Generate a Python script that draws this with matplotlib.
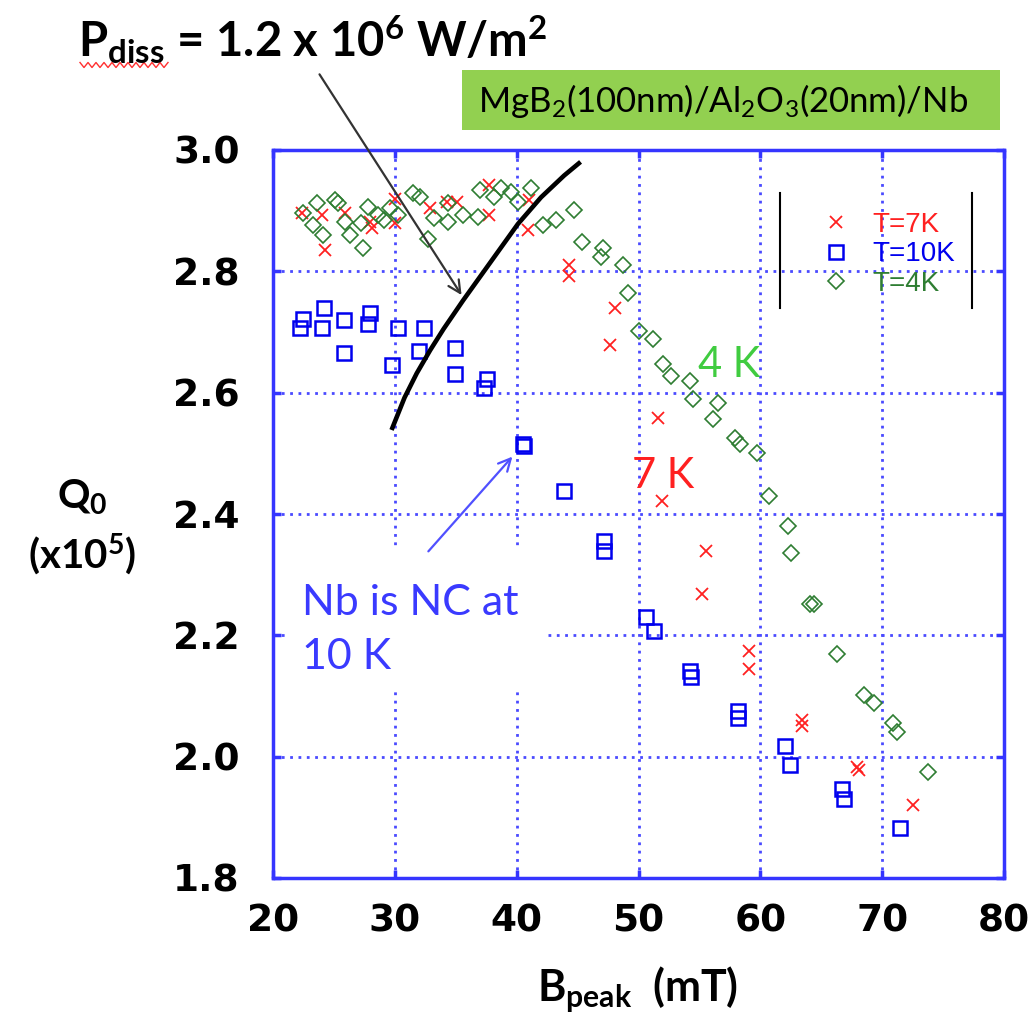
import numpy as np
import matplotlib
matplotlib.use('Agg')
import matplotlib.pyplot as plt
from matplotlib.lines import Line2D
from matplotlib.patches import Rectangle

plt.rcParams['mathtext.fontset'] = 'custom'
plt.rcParams['mathtext.rm'] = 'Lato'
plt.rcParams['mathtext.it'] = 'Lato:italic'
plt.rcParams['mathtext.bf'] = 'Lato:bold'

# T = 10 K (blue squares)
b10 = [22.2, 22.5, 24.0, 24.2, 25.8, 25.8, 27.8, 28.0, 30.3, 32.4, 32.0, 29.8,
       34.9, 34.9, 37.6, 37.3, 40.5, 40.6, 43.9, 47.2, 47.2, 50.6, 51.3, 54.2,
       54.3, 58.2, 58.2, 62.0, 62.4, 66.7, 66.9, 71.5]
q10 = [2.706, 2.722, 2.707, 2.739, 2.719, 2.666, 2.714, 2.731, 2.706, 2.706,
       2.669, 2.645, 2.673, 2.631, 2.623, 2.607, 2.516, 2.512, 2.438, 2.355,
       2.339, 2.231, 2.207, 2.142, 2.132, 2.075, 2.063, 2.018, 1.987, 1.947,
       1.931, 1.883]

# T = 7 K (red crosses)
b7 = [22.4, 24.0, 24.3, 25.9, 28.0, 28.1, 30.0, 30.0, 32.9, 34.3, 35.1, 37.7,
      37.7, 40.9, 41.0, 44.3, 44.3, 48.1, 47.7, 51.6, 51.9, 55.5, 55.2, 59.1,
      59.1, 63.4, 63.4, 67.9, 68.1, 72.5]
q7 = [2.896, 2.893, 2.835, 2.896, 2.881, 2.871, 2.920, 2.879, 2.904, 2.914,
      2.914, 2.893, 2.942, 2.868, 2.917, 2.810, 2.793, 2.740, 2.678, 2.559,
      2.421, 2.339, 2.268, 2.174, 2.144, 2.061, 2.050, 1.983, 1.978, 1.921]

# T = 4 K (green diamonds)
b4 = [22.5, 23.6, 23.3, 24.1, 25.1, 25.3, 25.9, 26.3, 27.4, 27.2, 27.8, 28.6,
      29.1, 29.6, 30.3, 31.5, 32.1, 32.7, 33.2, 34.4, 34.4, 35.6, 36.8, 37.0,
      38.1, 38.7, 39.5, 40.1, 41.2, 42.2, 43.2, 44.7, 45.4, 47.1, 46.9, 48.7,
      49.1, 50.0, 51.2, 52.0, 52.7, 54.2, 54.5, 56.5, 56.1, 57.9, 58.3, 59.7,
      60.7, 62.3, 62.5, 64.1, 64.4, 66.3, 68.5, 69.3, 70.9, 71.2, 73.8]
q4 = [2.896, 2.912, 2.876, 2.860, 2.917, 2.912, 2.881, 2.860, 2.838, 2.879,
      2.906, 2.893, 2.884, 2.904, 2.893, 2.929, 2.922, 2.854, 2.888, 2.881,
      2.912, 2.893, 2.889, 2.934, 2.922, 2.937, 2.931, 2.914, 2.937, 2.876,
      2.884, 2.901, 2.848, 2.838, 2.823, 2.810, 2.764, 2.702, 2.689, 2.648,
      2.628, 2.620, 2.590, 2.583, 2.557, 2.526, 2.516, 2.501, 2.430, 2.380,
      2.336, 2.252, 2.251, 2.169, 2.102, 2.088, 2.055, 2.041, 1.974]

# constant dissipated power curve
b_pdiss = [29.8, 30.8, 31.8, 32.9, 34.0, 35.6, 37.6, 40.1, 42.0, 43.9, 45.1]
q_pdiss = [2.542, 2.592, 2.632, 2.670, 2.705, 2.752, 2.808, 2.878, 2.922, 2.958, 2.978]

x_ticks = [20, 30, 40, 50, 60, 70, 80]
y_ticks = [1.8, 2.0, 2.2, 2.4, 2.6, 2.8, 3.0]

W, H = 1031, 1018


def fpos(x, y):
    # pixel position -> figure fraction
    return x / W, 1 - y / H


blue = '#3535ff'
fig = plt.figure(figsize=(W / 100, H / 100), dpi=100)
ax = fig.add_axes([273 / W, 1 - 878 / H, (1004 - 273) / W, (878 - 150) / H])

ax.plot(b7, q7, ls='none', marker='x', ms=9, mew=1.3, color='#ff2020', label='T=7K', zorder=3)
ax.plot(b10, q10, ls='none', marker='s', ms=10, mew=1.8, mfc='none', color='#0000ee', label='T=10K', zorder=3)
ax.plot(b4, q4, ls='none', marker='D', ms=8, mew=1.2, mfc='none', color='#2e7d32', label='T=4K', zorder=3)
ax.plot(b_pdiss, q_pdiss, color='black', lw=3.3, zorder=4)

ax.set_xlim(20, 80)
ax.set_ylim(1.8, 3.0)
ax.set_xticks(x_ticks)
ax.set_yticks(y_ticks)
ax.set_yticklabels([f'{v:.1f}' for v in y_ticks])
ax.grid(True, color='#4a4aff', lw=2, ls=(0, (1, 2)))
for s in ax.spines.values():
    s.set_color(blue)
    s.set_linewidth(2.5)
ax.tick_params(direction='in', length=6, width=2.5, color=blue, top=True, right=True,
               labelsize=27, labelfontfamily='DejaVu Sans')
ax.tick_params(axis='y', pad=24)
ax.tick_params(axis='x', pad=18)
for lab in ax.get_xticklabels() + ax.get_yticklabels():
    lab.set_fontweight('bold')

# legend with only vertical borders
leg = ax.legend(loc='upper left', bbox_to_anchor=fpos(808, 198), bbox_transform=fig.transFigure,
                frameon=False, prop={'family': 'Liberation Sans', 'size': 20},
                handlelength=1.0, handletextpad=0.8, labelspacing=0.12, borderpad=0)
for txt, c in zip(leg.get_texts(), ['#ff2020', '#0000ee', '#2e7d32']):
    txt.set_color(c)
for xl in (780, 972):
    fig.add_artist(Line2D([xl / W, xl / W], [1 - 193 / H, 1 - 308 / H], color='black', lw=1.5))

# annotations inside the plot
ax.text(54.9, 2.626, '4 K', color='#40cc40', fontsize=30, family='Lato', ha='left', va='baseline')
ax.text(49.5, 2.443, '7 K', color='#ff2020', fontsize=30, family='Lato', ha='left', va='baseline')
ax.add_patch(Rectangle((21.0, 2.110), 21.4, 0.234, fc='white', ec='none', zorder=2))
ax.text(22.4, 2.133, 'Nb is NC at\n10 K', color='#3a3aff', fontsize=31, family='Lato',
        ha='left', va='bottom', linespacing=1.5, zorder=3)
ax.annotate('', xy=(39.8, 2.498), xytext=(32.6, 2.335),
            arrowprops=dict(arrowstyle='->', color='#5050ff', lw=1.6, mutation_scale=22))
ax.annotate('', xy=(35.6, 2.757), xytext=fpos(318, 72), textcoords='figure fraction',
            arrowprops=dict(arrowstyle='->', color='#333333', lw=1.6, mutation_scale=22),
            annotation_clip=False)

# text outside the axes
fig.text(*fpos(78, 57), r'P$_{\mathbf{diss}}$ = 1.2 x 10$^{\mathbf{6}}$ W/m$^{\mathbf{2}}$',
         fontsize=34, fontweight='bold', family='Lato', ha='left', va='baseline')
zx = np.linspace(80, 168, 23)
zy = 65 + 2.5 * ((np.arange(23) % 2) * 2 - 1)
fig.add_artist(Line2D(zx / W, 1 - zy / H, color='#ff3030', lw=1.0))

fig.add_artist(Rectangle(fpos(462, 130), 538 / W, 60 / H, fc='#92d050', ec='none'))
fig.text(*fpos(478, 101), r'MgB$_2$(100nm)/Al$_2$O$_3$(20nm)/Nb', fontsize=25,
         family='Lato', ha='left', va='center')

fig.text(*fpos(82, 497), r'Q$_{\mathbf{0}}$', fontsize=29, fontweight='bold', family='Lato',
         ha='center', va='center')
fig.text(*fpos(82, 555), r'(x10$^{\mathbf{5}}$)', fontsize=29, fontweight='bold', family='Lato',
         ha='center', va='center')
fig.text(*fpos(638, 990), r'B$_{\mathbf{peak}}$  (mT)', fontsize=31, fontweight='bold',
         family='Lato', ha='center', va='center')

fig.savefig('out.png', dpi=100)
